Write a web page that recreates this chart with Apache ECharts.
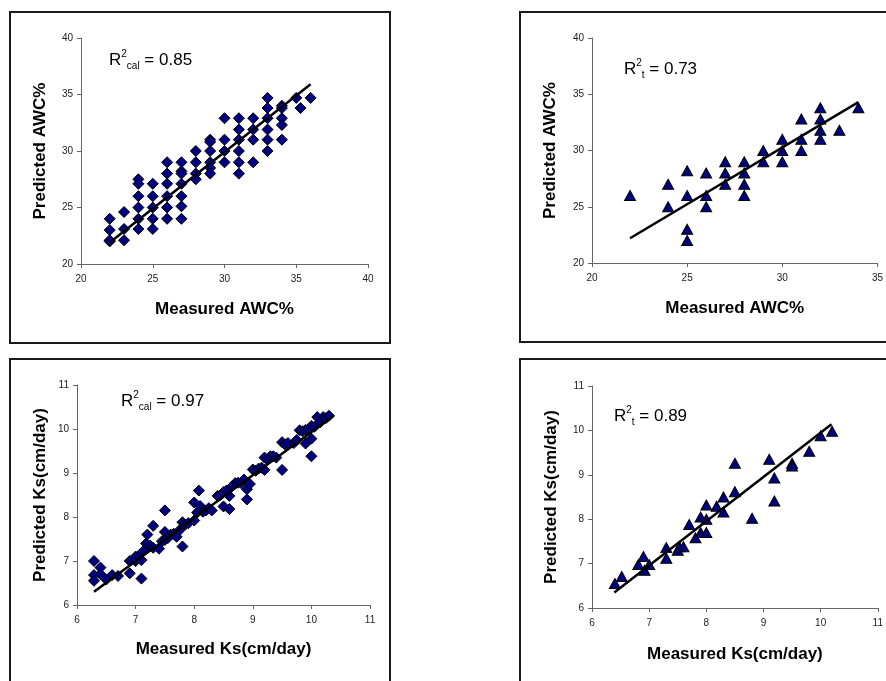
<!DOCTYPE html>
<html>
<head>
<meta charset="utf-8">
<script src="https://cdn.jsdelivr.net/npm/echarts@6/dist/echarts.min.js"></script>
<style>
  html, body { margin: 0; padding: 0; background: #fff; }
  #chart { width: 886px; height: 681px; }
</style>
</head>
<body>
<div id="chart"></div>
<script>
// Available water content (AWC%) – calibration set, [measured, predicted]
const awcCal = [
  [22,24],[22,23],[22,22],[22,22.1],
  [23,24.6],[23,23.1],[23,22.1],
  [24,27.5],[24,27.1],[24,26],[24,25],[24,24],[24,23.1],
  [25,27.1],[25,26],[25,25],[25,24],[25,23.1],
  [26,29],[26,28],[26,27.1],[26,26],[26,25],[26,24],
  [27,29],[27,28.2],[27,28],[27,27.1],[27,26],[27,25.1],[27,24],
  [28,30],[28,29],[28,28],[28,27.5],
  [29,31],[29,30.8],[29,30],[29,29],[29,28.5],[29,28],
  [30,32.9],[30,31],[30,30],[30,29],
  [31,32.9],[31,31.9],[31,31],[31,30],[31,29],[31,28],
  [32,32.9],[32,31.9],[32,31],[32,29],
  [33,34.7],[33,33.8],[33,32.9],[33,31.9],[33,31],[33,30],
  [34,34],[34,33.8],[34,32.9],[34,32.3],[34,31],
  [35,34.7],[35.3,33.8],[36,34.7]
];
const awcCalFit = [[22,21.9],[36,35.9]];

// AWC% – test set
const awcTest = [
  [22,26],[24,27],[24,25],
  [25,28.2],[25,26],[25,23],[25,22],
  [26,28],[26,26],[26,25],
  [27,29],[27,28],[27,27],
  [28,29],[28,28],[28,27],[28,26],
  [29,30],[29,29],
  [30,31],[30,30],[30,29],
  [31,32.8],[31,31],[31,30],
  [32,33.8],[32,32.8],[32,31.8],[32,31],
  [33,31.8],[34,33.8]
];
const awcTestFit = [[22,22.2],[34,34.3]];

// Saturated hydraulic conductivity Ks (cm/day) – calibration set
const ksCal = [
  [6.29,7.0],[6.29,6.68],[6.29,6.55],[6.4,6.85],[6.4,6.7],[6.5,6.58],
  [6.6,6.68],[6.7,6.66],[6.9,6.72],[6.9,7.0],[7.0,7.1],[7.0,7.0],
  [7.05,7.12],[7.1,7.02],[7.1,6.6],[7.15,7.25],[7.18,7.4],[7.2,7.6],
  [7.25,7.35],[7.3,7.8],[7.3,7.3],[7.4,7.28],[7.45,7.45],[7.5,8.15],
  [7.5,7.48],[7.5,7.66],[7.55,7.52],[7.6,7.6],[7.65,7.62],[7.7,7.55],
  [7.75,7.7],[7.8,7.33],[7.8,7.88],[7.85,7.83],[7.9,7.86],[8.0,7.92],
  [8.0,8.33],[8.05,8.1],[8.08,8.6],[8.1,8.25],[8.15,8.12],[8.2,8.15],
  [8.25,8.2],[8.3,8.15],[8.4,8.48],[8.45,8.5],[8.5,8.24],[8.5,8.57],
  [8.55,8.6],[8.6,8.48],[8.6,8.18],[8.65,8.7],[8.7,8.77],[8.75,8.78],
  [8.8,8.77],[8.85,8.85],[8.9,8.63],[8.9,8.4],[8.95,8.75],[9.0,9.08],
  [9.05,9.05],[9.1,9.1],[9.15,9.12],[9.2,9.07],[9.2,9.35],[9.25,9.3],
  [9.3,9.38],[9.35,9.38],[9.4,9.35],[9.5,9.07],[9.5,9.7],[9.55,9.65],
  [9.6,9.68],[9.7,9.68],[9.75,9.75],[9.8,9.97],[9.85,9.95],[9.9,9.67],
  [9.9,9.98],[9.95,10.0],[10.0,9.38],[10.0,9.78],[10.0,10.07],
  [10.05,10.05],[10.1,10.27],[10.15,10.15],[10.2,10.27],[10.25,10.25],
  [10.3,10.3]
];
const ksCalFit = [[6.29,6.3],[10.38,10.3]];

// Ks (cm/day) – test set
const ksTest = [
  [6.4,6.55],[6.52,6.71],[6.81,6.98],[6.9,7.16],[6.92,6.85],[7.0,6.98],
  [7.3,7.36],[7.3,7.12],[7.5,7.3],[7.53,7.38],[7.6,7.38],[7.7,7.88],
  [7.81,7.58],[7.9,8.05],[7.9,7.7],[8.0,8.32],[8.0,8.0],[8.0,7.7],
  [8.18,8.29],[8.3,8.5],[8.3,8.16],[8.5,8.62],[8.5,9.26],[8.8,8.02],
  [9.1,9.35],[9.19,8.93],[9.19,8.41],[9.5,9.26],[9.5,9.2],[9.8,9.53],
  [10.0,9.88],[10.2,9.98]
];
const ksTestFit = [[6.39,6.35],[10.19,10.14]];

// Axis ranges: [min, max, step]
const awcXRangeA = [20, 40, 5];
const awcXRangeB = [20, 35, 5];
const awcYRange = [20, 40, 5];
const ksRange = [6, 11, 1];

const FONT = '"Liberation Sans", Arial, sans-serif';
const markerFill = '#000080';

const grids = [
  { left: 81,  top: 38,  width: 287, height: 226 },
  { left: 592, top: 38,  width: 287, height: 225 },
  { left: 77,  top: 385, width: 293, height: 220 },
  { left: 592, top: 386, width: 287, height: 222 }
];

function xAxisCfg(idx, range, name, gap) {
  return {
    gridIndex: idx, type: 'value', min: range[0], max: range[1], interval: range[2],
    name: name, nameLocation: 'middle', nameGap: gap,
    nameTextStyle: { fontFamily: FONT, fontWeight: 'bold', fontSize: 17, color: '#000' },
    axisLine: { show: true, lineStyle: { color: '#666', width: 1 } },
    axisTick: { show: true, length: 4, inside: false, lineStyle: { color: '#666' } },
    axisLabel: { fontFamily: FONT, fontSize: 10, color: '#222', margin: 10 },
    splitLine: { show: false }
  };
}
function yAxisCfg(idx, range, name, gap) {
  return {
    gridIndex: idx, type: 'value', min: range[0], max: range[1], interval: range[2],
    name: name, nameLocation: 'middle', nameGap: gap,
    nameTextStyle: { fontFamily: FONT, fontWeight: 'bold', fontSize: 17, color: '#000' },
    axisLine: { show: true, lineStyle: { color: '#666', width: 1 } },
    axisTick: { show: true, length: 4, inside: false, lineStyle: { color: '#666' } },
    axisLabel: { fontFamily: FONT, fontSize: 10, color: '#222', margin: 8 },
    splitLine: { show: false }
  };
}

function scatter(idx, data, symbol) {
  return {
    type: 'scatter', xAxisIndex: idx, yAxisIndex: idx, data: data,
    symbol: symbol, symbolSize: symbol === 'triangle' ? [11, 10] : 11,
    itemStyle: { color: markerFill, borderColor: '#000', borderWidth: 1, opacity: 1 },
    z: 2
  };
}
function fitLine(idx, data) {
  return {
    type: 'line', xAxisIndex: idx, yAxisIndex: idx, data: data,
    symbol: 'none', lineStyle: { color: '#000', width: 2.5 }, z: 3, silent: true
  };
}

const richR2 = {
  r: { fontFamily: FONT, fontSize: 17, color: '#000', lineHeight: 22, verticalAlign: 'middle' },
  sup: { fontFamily: FONT, fontSize: 10, color: '#000', lineHeight: 12, verticalAlign: 'top' },
  sub: { fontFamily: FONT, fontSize: 10, color: '#000', lineHeight: 10, verticalAlign: 'bottom' }
};
function r2Label(x, y, sub, value) {
  return {
    type: 'text', left: x, top: y, z: 10,
    style: {
      text: '{r|R}{sup|2}{sub|' + sub + '}{r| = ' + value + '}',
      rich: richR2
    }
  };
}
function frame(x, y, w, h) {
  return {
    type: 'rect', shape: { x: x, y: y, width: w, height: h }, z: 0,
    style: { fill: 'none', stroke: '#1a1a1a', lineWidth: 2 }
  };
}

const chart = echarts.init(document.getElementById('chart'), null, { renderer: 'canvas' });
chart.setOption({
  backgroundColor: '#fff',
  animation: false,
  grid: grids,
  xAxis: [
    xAxisCfg(0, awcXRangeA, 'Measured AWC%', 37),
    xAxisCfg(1, awcXRangeB, 'Measured AWC%', 37),
    xAxisCfg(2, ksRange, 'Measured Ks(cm/day)', 36),
    xAxisCfg(3, ksRange, 'Measured Ks(cm/day)', 38)
  ],
  yAxis: [
    yAxisCfg(0, awcYRange, 'Predicted AWC%', 32),
    yAxisCfg(1, awcYRange, 'Predicted AWC%', 33),
    yAxisCfg(2, ksRange, 'Predicted Ks(cm/day)', 28),
    yAxisCfg(3, ksRange, 'Predicted Ks(cm/day)', 32)
  ],
  series: [
    scatter(0, awcCal, 'diamond'), fitLine(0, awcCalFit),
    scatter(1, awcTest, 'triangle'), fitLine(1, awcTestFit),
    scatter(2, ksCal, 'diamond'), fitLine(2, ksCalFit),
    scatter(3, ksTest, 'triangle'), fitLine(3, ksTestFit)
  ],
  graphic: [
    frame(10, 12, 380, 331),
    frame(520, 12, 400, 330),
    frame(10, 359, 380, 340),
    frame(520, 359, 400, 340),
    r2Label(109, 49, 'cal', '0.85'),
    r2Label(624, 58, 't', '0.73'),
    r2Label(121, 390, 'cal', '0.97'),
    r2Label(614, 405, 't', '0.89')
  ]
});
</script>
</body>
</html>
